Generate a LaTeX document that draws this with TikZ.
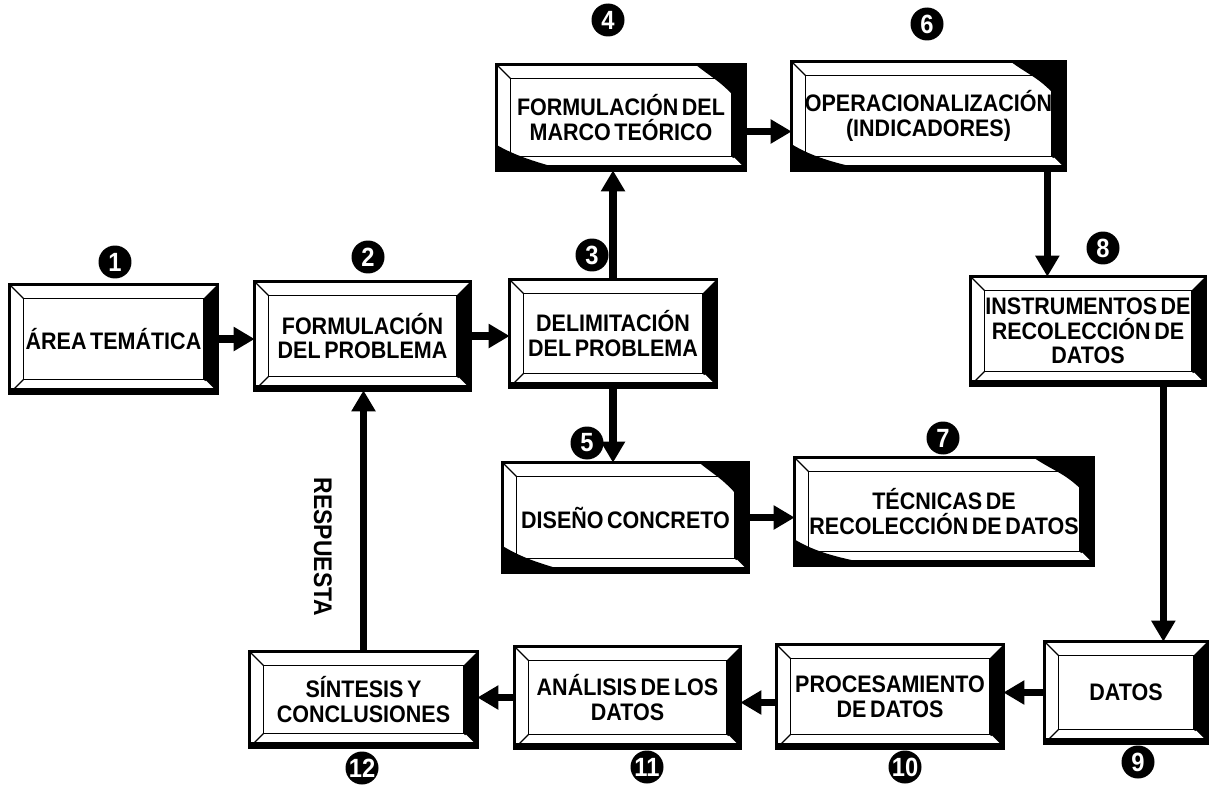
\documentclass[tikz,border=0pt]{standalone}
\usepackage{fontspec}
\setmainfont{Liberation Sans}[FakeStretch=0.9,WordSpace=0.6]
\usetikzlibrary{arrows.meta,calc,backgrounds}

\tikzset{
  boxtext/.style={draw=none, fill=none, inner sep=0pt, align=center,
    font=\bfseries\fontsize{13.6}{14}\selectfont},
  flow/.style={line width=4pt, -{Triangle[length=0.42cm,width=0.46cm]}},
  badge/.style={circle, fill=black, text=white, inner sep=0pt,
    minimum size=0.66cm, font=\bfseries\fontsize{15}{15}\selectfont},
  sidelabel/.style={inner sep=0pt, rotate=-90,
    font=\bfseries\fontsize{14.5}{15}\selectfont},
}

% bevel depth in picture units
\def\bv{14}

% bevelled frame drawn behind a named node; #2=1 adds dark corner shading
\newcommand\bevelart[2]{%
  \begin{pgfonlayer}{background}
    \fill[white] (#1.north west) rectangle (#1.south east);
    \ifnum#2=1
      \fill ($(#1.north west)!0.80!(#1.north east)$)
        .. controls ($(#1.north west)!0.88!(#1.north east)+(0,16)$)
        and ($(#1.north east)+(-24,16)$)
        .. ($(#1.north east)!0.42!(#1.south east)$) -- (#1.north east) -- cycle;
      \fill (#1.south west) -- ($(#1.north west)!0.76!(#1.south west)$)
        .. controls ($(#1.south west)+(20,-14)$)
        and ($(#1.south west)+(40,-8)$)
        .. ($(#1.south west)!0.28!(#1.south east)$) -- cycle;
    \fi
    \fill (#1.north east) -- (#1.south east)
      -- ($(#1.south east)+(-\bv,-\bv)$) -- ($(#1.north east)+(-\bv,\bv)$) -- cycle;
    \draw[line width=0.7pt] ($(#1.north west)+(\bv,\bv)$)
      rectangle ($(#1.south east)+(-\bv,-\bv)$);
    \draw[line width=0.7pt] (#1.north west) -- ++(\bv,\bv)
      (#1.south west) -- ++(\bv,-\bv);
    \draw[white, line width=1.2pt] ($(#1.south east)+(-3,-3)$) -- ++(-\bv+5,-\bv+5);
    \draw[line width=1.8pt] (#1.north west) rectangle (#1.south east);
    \draw[line width=3.6pt] ($(#1.south west)+(0,-2)$) -- ($(#1.south east)+(0,-2)$);
  \end{pgfonlayer}}

% named box from its pixel corners: [style]{name}{x1}{y1}{x2}{y2}{dark}{text}
\newcommand\bevelbox[8][]{%
  \node[boxtext, #1, minimum width={(#5-#3)*0.02cm},
        minimum height={(#6-#4)*0.02cm}]
    (#2) at ({(#3+#5)/2},{(#4+#6)/2}) {#8};
  \bevelart{#2}{#7}}

\begin{document}
\begin{tikzpicture}[x=0.02cm,y=-0.02cm]
  \useasboundingbox (0,0) rectangle (1209,787);
  \begin{pgfonlayer}{background}
    \fill[white] (0,0) rectangle (1209,787);
  \end{pgfonlayer}

  % boxes
  \bevelbox{b1}{10}{285}{217}{393}{0}{ÁREA TEMÁTICA}
  \bevelbox{b2}{255}{282}{470}{390}{0}{FORMULACIÓN\\DEL PROBLEMA}
  \bevelbox{b3}{510}{280}{716}{387}{0}{DELIMITACIÓN\\DEL PROBLEMA}
  \bevelbox{b4}{497}{65}{745}{170}{1}{FORMULACIÓN DEL\\MARCO TEÓRICO}
  \bevelbox{b6}{792}{62}{1065}{170}{1}{OPERACIONALIZACIÓN\\(INDICADORES)}
  \bevelbox{b8}{971}{277}{1205}{385}{0}{INSTRUMENTOS DE\\RECOLECCIÓN DE\\DATOS}
  \bevelbox{b5}{503}{463}{748}{572}{1}{DISEÑO CONCRETO}
  \bevelbox{b7}{795}{458}{1093}{565}{1}{TÉCNICAS DE\\RECOLECCIÓN DE DATOS}
  \bevelbox{b9}{1045}{642}{1207}{743}{0}{DATOS}
  \bevelbox{b10}{777}{645}{1003}{748}{0}{PROCESAMIENTO\\DE DATOS}
  \bevelbox{b11}{515}{647}{740}{748}{0}{ANÁLISIS DE LOS\\DATOS}
  \bevelbox{b12}{250}{652}{477}{747}{0}{SÍNTESIS Y\\CONCLUSIONES}

  % anchor points for off-centre connectors
  \coordinate (c4) at ($(b4.east)+(0,14)$);
  \coordinate (c6) at ($(b6.south east)+(-18,0)$);
  \coordinate (c8) at ($(b8.south east)+(-42,0)$);
  \coordinate (c10) at ($(b10.west)+(0,6)$);

  % connectors
  \draw[flow] (b1.east) -- (b1.east -| b2.west);
  \draw[flow] (b2.east) -- (b2.east -| b3.west);
  \draw[flow] (b3.north) -- (b3.north |- b4.south);
  \draw[flow] (b3.south) -- (b3.south |- b5.north);
  \draw[flow] (c4) -- (c4 -| b6.west);
  \draw[flow] (b5.east) -- (b5.east -| b7.west);
  \draw[flow] (c6) -- (c6 |- b8.north);
  \draw[flow] (c8) -- (c8 |- b9.north);
  \draw[flow] (b9.west) -- (b9.west -| b10.east);
  \draw[flow] (c10) -- (c10 -| b11.east);
  \draw[flow] (b11.west) -- (b11.west -| b12.east);
  \draw[flow] (b12.north) -- (b12.north |- b2.south);

  \node[sidelabel] (resp) at (323,547) {RESPUESTA};

  % step numbers
  \node[badge] (n1) at (115,262) {1};
  \node[badge] (n2) at (368,257) {2};
  \node[badge] (n3) at (592,255) {3};
  \node[badge] (n4) at (608,20) {4};
  \node[badge] (n5) at (587,443) {5};
  \node[badge] (n6) at (927,24) {6};
  \node[badge] (n7) at (943,438) {7};
  \node[badge] (n8) at (1103,248) {8};
  \node[badge] (n9) at (1138,762) {9};
  \node[badge] (n10) at (905,767) {10};
  \node[badge] (n11) at (647,767) {11};
  \node[badge] (n12) at (362,768) {12};
\end{tikzpicture}
\end{document}
